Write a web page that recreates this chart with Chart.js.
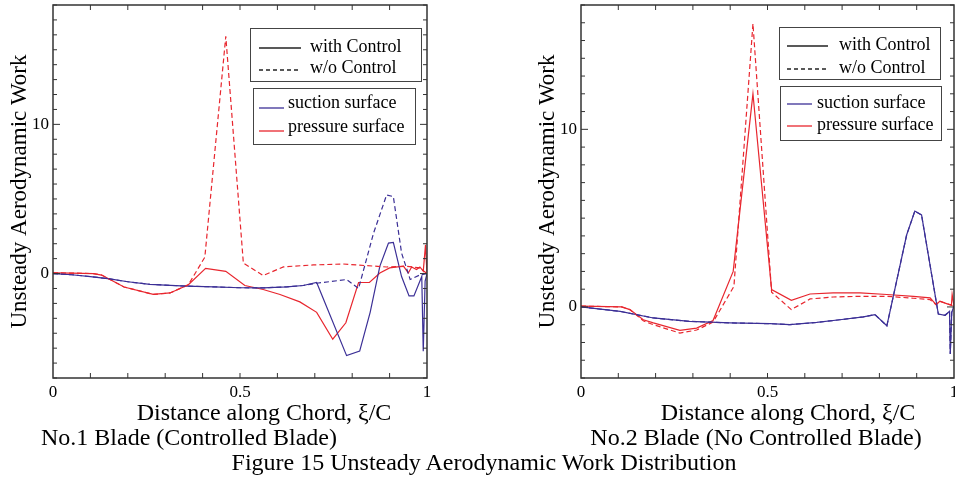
<!DOCTYPE html>
<html>
<head>
<meta charset="utf-8">
<script src="https://cdn.jsdelivr.net/npm/chart.js@4.4.1/dist/chart.umd.min.js"></script>
<style>
body { margin: 0; background: #fff; }
#fig { position: relative; width: 955px; height: 488px; overflow: hidden; font-family: 'Liberation Serif', 'Times New Roman', serif; color: #000; }
canvas { position: absolute; top: 0; }
.txt { position: absolute; width: 400px; white-space: nowrap; text-align: center; font-size: 24px; line-height: 24px; }
.box { position: absolute; border: 1.5px solid #444; box-sizing: border-box; }
.lab { position: absolute; white-space: nowrap; font-size: 18px; line-height: 20px; }
.smp { position: absolute; overflow: visible; }
</style>
</head>
<body>
<div id="fig">
	<canvas id="blade1" width="440" height="400" style="left:0"></canvas>
	<canvas id="blade2" width="427" height="400" style="left:528px"></canvas>
	<div class="txt" style="left:64px;top:400px">Distance along Chord, ξ/C</div>
	<div class="txt" style="left:588px;top:400px">Distance along Chord, ξ/C</div>
	<div class="txt" style="left:-11px;top:425px">No.1 Blade (Controlled Blade)</div>
	<div class="txt" style="left:556px;top:425px">No.2 Blade (No Controlled Blade)</div>
	<div class="txt" style="left:184px;top:450px;width:600px">Figure 15 Unsteady Aerodynamic Work Distribution</div>
</div>
<script>
// tick labels
const xLabels = [0, 0.5, 1];
const yLabels1 = [0, 10];
const yLabels2 = [0, 10];

// No.1 blade, [xi/C, work]
const b1SuctionCtrl = [[0,0],[0.05,-0.08],[0.1,-0.2],[0.152,-0.36],[0.2,-0.55],[0.259,-0.72],[0.3,-0.78],[0.357,-0.84],[0.43,-0.89],[0.5,-0.95],[0.562,-0.96],[0.625,-0.89],[0.669,-0.8],[0.705,-0.6],[0.785,-5.5],[0.82,-5.2],[0.848,-2.6],[0.874,0.5],[0.897,2.04],[0.91,2.09],[0.932,-0.2],[0.952,-1.5],[0.965,-1.5],[0.986,-0.2],[0.99,-5.2],[0.995,-0.5],[1,0]];
const b1SuctionNoCtrl = [[0,0],[0.05,-0.08],[0.1,-0.2],[0.152,-0.36],[0.2,-0.55],[0.259,-0.72],[0.3,-0.78],[0.357,-0.84],[0.43,-0.89],[0.5,-0.95],[0.562,-0.96],[0.625,-0.89],[0.669,-0.8],[0.705,-0.65],[0.785,-0.4],[0.817,-1.0],[0.857,2.7],[0.892,5.27],[0.91,5.16],[0.932,1.38],[0.955,-0.4],[0.98,-0.1],[1,0]];
const b1PressureCtrl = [[0,0.05],[0.05,0.03],[0.108,0],[0.13,-0.1],[0.19,-0.9],[0.268,-1.4],[0.313,-1.3],[0.362,-0.75],[0.408,0.35],[0.462,0.15],[0.513,-0.8],[0.562,-1.07],[0.607,-1.4],[0.66,-1.9],[0.705,-2.6],[0.748,-4.4],[0.783,-3.3],[0.817,-0.6],[0.846,-0.6],[0.874,0.04],[0.9,0.38],[0.937,0.49],[0.95,0.04],[0.959,0.44],[0.972,0.27],[0.981,0.44],[0.99,0.16],[0.996,1.93],[1,0]];
const b1PressureNoCtrl = [[0,0.05],[0.05,0.03],[0.108,0],[0.13,-0.1],[0.19,-0.9],[0.268,-1.4],[0.313,-1.3],[0.362,-0.75],[0.406,1.1],[0.462,15.9],[0.509,0.7],[0.562,-0.13],[0.616,0.45],[0.696,0.58],[0.776,0.64],[0.839,0.53],[0.892,0.44],[0.946,0.49],[0.98,0.38],[1,0]];

// No.2 blade
const b2SuctionCtrl = [[0,0],[0.105,-0.25],[0.194,-0.62],[0.291,-0.81],[0.4,-0.9],[0.507,-0.94],[0.56,-1.0],[0.632,-0.87],[0.694,-0.72],[0.757,-0.56],[0.788,-0.43],[0.82,-1.06],[0.847,1.54],[0.873,4.05],[0.895,5.4],[0.913,5.18],[0.958,-0.4],[0.976,-0.47],[0.988,-0.25],[0.99,-2.65],[0.994,-0.3],[1,0.05]];
const b2SuctionNoCtrl = [[0,0],[0.105,-0.25],[0.194,-0.62],[0.291,-0.81],[0.4,-0.9],[0.507,-0.94],[0.56,-1.0],[0.632,-0.87],[0.694,-0.72],[0.757,-0.56],[0.788,-0.43],[0.82,-1.06],[0.847,1.54],[0.873,4.05],[0.895,5.4],[0.913,5.18],[0.958,-0.4],[0.976,-0.47],[0.988,-0.25],[0.99,-2.65],[0.994,-0.3],[1,0.05]];
const b2PressureCtrl = [[0,0.05],[0.109,0],[0.131,-0.15],[0.167,-0.72],[0.194,-0.9],[0.265,-1.32],[0.31,-1.19],[0.354,-0.76],[0.408,2.0],[0.461,12.0],[0.511,0.98],[0.564,0.37],[0.614,0.73],[0.676,0.79],[0.748,0.79],[0.82,0.7],[0.891,0.6],[0.936,0.51],[0.952,0.13],[0.962,0.32],[0.98,0.19],[0.993,0.1],[0.995,0.7],[1,0.05]];
const b2PressureNoCtrl = [[0,0.05],[0.109,0],[0.131,-0.15],[0.167,-0.78],[0.194,-1.0],[0.265,-1.47],[0.31,-1.3],[0.354,-0.85],[0.41,1.16],[0.461,15.95],[0.511,0.83],[0.564,-0.15],[0.614,0.45],[0.676,0.56],[0.748,0.6],[0.82,0.6],[0.891,0.49],[0.936,0.41],[0.952,0.13],[0.962,0.32],[0.98,0.19],[0.993,0.1],[1,0.05]];

const BLUE = '#3b2f96';
const RED = '#e8262e';
const serif = 'Liberation Serif';

Chart.defaults.font.family = serif;

// frame with inward ticks on all four sides
const frame = {
	id: 'frame',
	afterDatasetsDraw(chart, args, opts) {
		const {ctx, chartArea: a, scales: {x, y}} = chart;
		const seg = (x1, y1, x2, y2) => { ctx.beginPath(); ctx.moveTo(x1, y1); ctx.lineTo(x2, y2); ctx.stroke(); };
		ctx.save();
		ctx.strokeStyle = '#333';
		ctx.lineWidth = 1;
		for (let i = 1; i < 10; i++) {
			const px = x.getPixelForValue(i / 10);
			seg(px, a.bottom, px, a.bottom - 5);
			seg(px, a.top, px, a.top + 5);
		}
		for (let v = Math.ceil(y.min); v <= y.max; v++) {
			const py = y.getPixelForValue(v);
			const len = opts.major.includes(v) ? 7 : 4;
			seg(a.left, py, a.left + len, py);
			seg(a.right, py, a.right - len, py);
		}
		ctx.lineWidth = 1.5;
		ctx.strokeRect(a.left, a.top, a.right - a.left, a.bottom - a.top);
		ctx.restore();
	}
};

const series = (data, color, dashed) => ({
	data: data.map(([x, y]) => ({x, y})),
	borderColor: color,
	borderWidth: 1.2,
	borderDash: dashed ? [5, 3] : [],
	pointRadius: 0,
	tension: 0,
	fill: false
});

const makeChart = (id, sets, yMin, yMax, yLabels, padRight) => new Chart(document.getElementById(id), {
	type: 'line',
	data: { datasets: sets },
	plugins: [frame],
	options: {
		responsive: false,
		animation: false,
		layout: { padding: { top: 5, right: padRight, left: 0, bottom: 0 } },
		plugins: {
			legend: { display: false },
			tooltip: { enabled: false },
			frame: { major: yLabels }
		},
		scales: {
			x: {
				type: 'linear', min: 0, max: 1,
				grid: { display: false, drawTicks: false },
				border: { display: false },
				ticks: { color: '#000', padding: 4, maxRotation: 0, font: { family: serif, size: 17 }, callback: v => String(v) },
				afterBuildTicks: s => { s.ticks = xLabels.map(v => ({value: v})); },
				afterFit: s => { s.height = 22; s.paddingLeft = 0; s.paddingRight = 0; }
			},
			y: {
				type: 'linear', min: yMin, max: yMax,
				grid: { display: false, drawTicks: false },
				border: { display: false },
				ticks: { color: '#000', padding: 4, font: { family: serif, size: 17 }, callback: v => String(v) },
				afterBuildTicks: s => { s.ticks = yLabels.map(v => ({value: v})); },
				afterFit: s => { s.width = 53; s.paddingTop = 0; s.paddingBottom = 0; },
				title: {
					display: true,
					text: 'Unsteady Aerodynamic Work',
					color: '#000',
					font: { family: serif, size: 23 },
					padding: { top: 6, bottom: 0 }
				}
			}
		}
	}
});

makeChart('blade1', [
	series(b1SuctionNoCtrl, BLUE, true),
	series(b1PressureNoCtrl, RED, true),
	series(b1SuctionCtrl, BLUE, false),
	series(b1PressureCtrl, RED, false)
], -7, 18, yLabels1, 13);

makeChart('blade2', [
	series(b2SuctionNoCtrl, BLUE, true),
	series(b2PressureNoCtrl, RED, true),
	series(b2SuctionCtrl, BLUE, false),
	series(b2PressureCtrl, RED, false)
], -4, 17, yLabels2, 1);

// boxed legends
const fig = document.getElementById('fig');
const box = (left, top, w, h) => {
	const d = document.createElement('div');
	d.className = 'box';
	Object.assign(d.style, { left: left + 'px', top: top + 'px', width: w + 'px', height: h + 'px' });
	fig.appendChild(d);
};
const row = (x1, x2, y, tx, ty, text, color, dashed) => {
	const ns = 'http://www.w3.org/2000/svg';
	const svg = document.createElementNS(ns, 'svg');
	svg.setAttribute('class', 'smp');
	svg.setAttribute('width', x2 - x1);
	svg.setAttribute('height', 4);
	svg.style.left = x1 + 'px';
	svg.style.top = (y - 2) + 'px';
	const ln = document.createElementNS(ns, 'line');
	ln.setAttribute('x1', 0); ln.setAttribute('y1', 2);
	ln.setAttribute('x2', x2 - x1); ln.setAttribute('y2', 2);
	ln.setAttribute('stroke', color);
	ln.setAttribute('stroke-width', 1.3);
	if (dashed) ln.setAttribute('stroke-dasharray', '4 3');
	svg.appendChild(ln);
	fig.appendChild(svg);
	const t = document.createElement('div');
	t.className = 'lab';
	t.textContent = text;
	t.style.left = tx + 'px';
	t.style.top = ty + 'px';
	fig.appendChild(t);
};

box(250, 28, 172, 54);
row(259, 301, 47.5, 310, 35.5, 'with Control', '#222', false);
row(259, 301, 70, 310, 57, 'w/o Control', '#222', true);
box(253, 88, 163, 57);
row(259, 284, 107.5, 288, 92, 'suction surface', BLUE, false);
row(259, 284, 130.5, 288, 115.5, 'pressure surface', RED, false);

box(779, 27, 162, 53);
row(787, 828, 45.5, 839, 34, 'with Control', '#222', false);
row(787, 828, 68.5, 839, 57, 'w/o Control', '#222', true);
box(780, 86, 162, 55);
row(787, 812, 103.5, 817, 92, 'suction surface', BLUE, false);
row(787, 812, 125.5, 817, 114, 'pressure surface', RED, false);
</script>
</body>
</html>
